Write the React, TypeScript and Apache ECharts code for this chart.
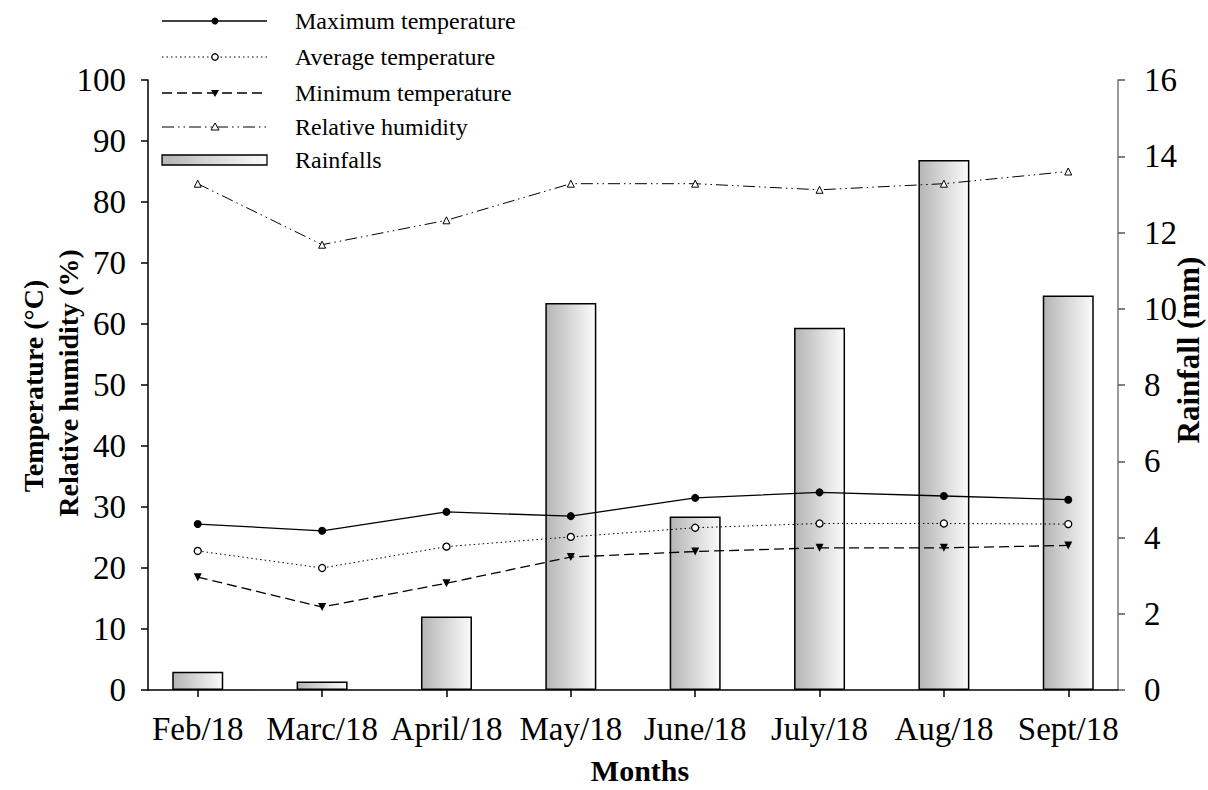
import React, { useEffect, useRef } from "react";
import * as echarts from "echarts";

const months = ["Feb/18", "Marc/18", "April/18", "May/18", "June/18", "July/18", "Aug/18", "Sept/18"];
const maxTemp = [27.2, 26.1, 29.2, 28.5, 31.5, 32.4, 31.8, 31.2];
const avgTemp = [22.8, 20.0, 23.5, 25.1, 26.6, 27.3, 27.3, 27.2];
const minTemp = [18.5, 13.6, 17.5, 21.8, 22.7, 23.3, 23.3, 23.7];
const humidity = [83, 73, 77, 83, 83, 82, 83, 85];
const rainfall = [0.48, 0.22, 1.93, 10.15, 4.55, 9.5, 13.9, 10.35];
const legendNames = ["Maximum temperature", "Average temperature", "Minimum temperature", "Relative humidity", "Rainfalls"];

const FONT = "'Liberation Serif', 'Times New Roman', serif";

export default function App() {
  const ref = useRef<HTMLDivElement>(null);
  useEffect(() => {
    if (!ref.current) return;
    const chart = echarts.init(ref.current, null, { renderer: "svg" });
    const pts = (arr: number[]) => arr.map((v, i) => [i, v]);
    const barFill = new echarts.graphic.LinearGradient(0, 0, 1, 0, [
      { offset: 0, color: "#b5b5b5" },
      { offset: 1, color: "#fbfbfb" },
    ]);
    const legY = [21, 57, 93, 127, 160];
    const lx0 = 162, lx1 = 267, lmid = 215, tx = 295;
    const legendGraphics: any[] = [];
    legendGraphics.push({ type: "line", shape: { x1: lx0, y1: legY[0], x2: lx1, y2: legY[0] }, style: { stroke: "#000", lineWidth: 1.3 } });
    legendGraphics.push({ type: "circle", shape: { cx: lmid, cy: legY[0], r: 3.5 }, style: { fill: "#000" } });
    legendGraphics.push({ type: "line", shape: { x1: lx0, y1: legY[1], x2: lx1, y2: legY[1] }, style: { stroke: "#000", lineWidth: 1, lineDash: [1.5, 3] } });
    legendGraphics.push({ type: "circle", shape: { cx: lmid, cy: legY[1], r: 3.2 }, style: { fill: "#fff", stroke: "#000", lineWidth: 1.3 } });
    legendGraphics.push({ type: "line", shape: { x1: lx0, y1: legY[2], x2: lx1, y2: legY[2] }, style: { stroke: "#000", lineWidth: 1.3, lineDash: [10, 5] } });
    legendGraphics.push({ type: "polygon", shape: { points: [[lmid - 4, legY[2] - 3], [lmid + 4, legY[2] - 3], [lmid, legY[2] + 4]] }, style: { fill: "#000" } });
    legendGraphics.push({ type: "line", shape: { x1: lx0, y1: legY[3], x2: lx1, y2: legY[3] }, style: { stroke: "#000", lineWidth: 1, lineDash: [12, 4, 1.5, 4, 1.5, 4] } });
    legendGraphics.push({ type: "polygon", shape: { points: [[lmid - 4, legY[3] + 3], [lmid + 4, legY[3] + 3], [lmid, legY[3] - 4]] }, style: { fill: "#fff", stroke: "#000", lineWidth: 1 } });
    legendGraphics.push({ type: "rect", shape: { x: lx0, y: legY[4] - 5, width: lx1 - lx0, height: 10 }, style: { fill: barFill, stroke: "#000", lineWidth: 1.3 } });
    legendNames.forEach((n, i) => {
      legendGraphics.push({ type: "text", x: tx, y: legY[i], style: { text: n, font: `24px ${FONT}`, fill: "#000", verticalAlign: "middle", align: "left" } });
    });

    const titles: any[] = [
      { type: "text", x: 33, y: 386, rotation: Math.PI / 2, style: { text: "Temperature (°C)", font: `bold 28px ${FONT}`, fill: "#000", align: "center", verticalAlign: "middle" } },
      { type: "text", x: 68, y: 383, rotation: Math.PI / 2, style: { text: "Relative humidity (%)", font: `bold 28px ${FONT}`, fill: "#000", align: "center", verticalAlign: "middle" } },
      { type: "text", x: 1188, y: 350, rotation: Math.PI / 2, style: { text: "Rainfall (mm)", font: `bold 31px ${FONT}`, fill: "#000", align: "center", verticalAlign: "middle" } },
      { type: "text", x: 640, y: 770, style: { text: "Months", font: `bold 30px ${FONT}`, fill: "#000", align: "center", verticalAlign: "middle" } },
    ];

    const lblStyle = { fontFamily: FONT, fontSize: 33, color: "#000" };
    chart.setOption({
      animation: false,
      backgroundColor: "#fff",
      grid: { left: 148, right: 90, top: 80, bottom: 100, containLabel: false },
      xAxis: {
        type: "value",
        min: -0.4,
        max: 7.4,
        splitLine: { show: false },
        axisLine: { show: true, onZero: false, lineStyle: { color: "#000", width: 1.5 } },
        axisTick: { show: true, customValues: months.map((_, i) => i), length: 7, lineStyle: { color: "#000", width: 1.5 } },
        axisLabel: { customValues: months.map((_, i) => i), formatter: (v: number) => months[Math.round(v)] ?? "", margin: 22, ...lblStyle },
      },
      yAxis: [
        {
          type: "value", min: 0, max: 100, interval: 10, position: "left",
          splitLine: { show: false },
          axisLine: { show: true, onZero: false, lineStyle: { color: "#000", width: 1.5 } },
          axisTick: { show: true, length: 7, lineStyle: { color: "#000", width: 1.5 } },
          axisLabel: { margin: 22, ...lblStyle },
        },
        {
          type: "value", min: 0, max: 16, interval: 2, position: "right",
          splitLine: { show: false },
          axisLine: { show: true, onZero: false, lineStyle: { color: "#777", width: 1.5 } },
          axisTick: { show: true, length: 7, lineStyle: { color: "#555", width: 1.5 } },
          axisLabel: { margin: 26, ...lblStyle },
        },
      ],
      series: [
        {
          name: "Rainfalls", type: "bar", yAxisIndex: 1, data: pts(rainfall), barWidth: 51,
          itemStyle: { color: barFill, borderColor: "#000", borderWidth: 1.5 },
        },
        {
          name: "Maximum temperature", type: "line", data: pts(maxTemp), symbol: "circle", symbolSize: 8,
          lineStyle: { color: "#000", width: 1.3 }, itemStyle: { color: "#000" },
        },
        {
          name: "Average temperature", type: "line", data: pts(avgTemp), symbol: "circle", symbolSize: 7,
          lineStyle: { color: "#000", width: 1, type: [1.5, 3] }, itemStyle: { color: "#fff", borderColor: "#000", borderWidth: 1.3 },
        },
        {
          name: "Minimum temperature", type: "line", data: pts(minTemp), symbol: "triangle", symbolRotate: 180, symbolSize: 8,
          lineStyle: { color: "#000", width: 1.3, type: [10, 5] }, itemStyle: { color: "#000" },
        },
        {
          name: "Relative humidity", type: "line", data: pts(humidity), symbol: "triangle", symbolSize: 7,
          lineStyle: { color: "#000", width: 1, type: [12, 4, 1.5, 4, 1.5, 4] }, itemStyle: { color: "#fff", borderColor: "#000", borderWidth: 1 },
        },
      ],
      graphic: [...legendGraphics, ...titles],
    });
    return () => chart.dispose();
  }, []);
  return <div ref={ref} style={{ width: 1208, height: 790, position: "absolute", left: 0, top: 0 }} />;
}
